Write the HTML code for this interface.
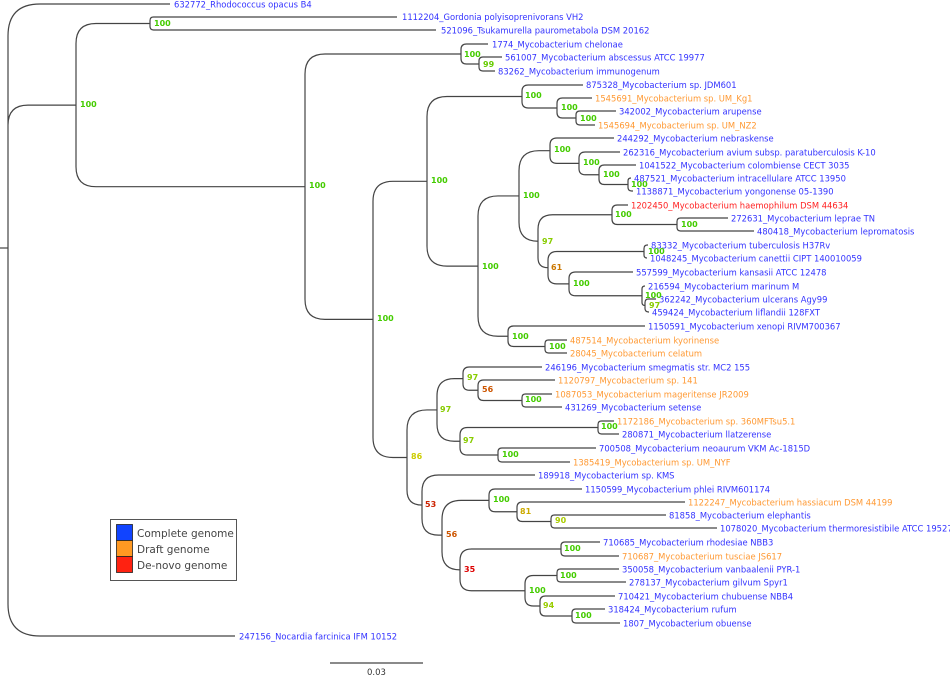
<!DOCTYPE html>
<html><head><meta charset="utf-8"><style>
html,body{margin:0;padding:0;background:#fff;}
svg{display:block;font-family:"DejaVu Sans","Liberation Sans",sans-serif;}
.b{fill:#3333ff;font-size:8.4px}
.o{fill:#ff9933;font-size:8.4px}
.r{fill:#ff2222;font-size:8.4px}
.s{font-size:8px;font-weight:bold}
</style></head><body>
<svg id="t" width="950" height="675" viewBox="0 0 950 675" xmlns="http://www.w3.org/2000/svg">
<g id="lines" fill="none" stroke="#444" stroke-width="1.2"></g>
<line x1="0" y1="248" x2="8" y2="248" stroke="#444" stroke-width="1.2"/>
<g>
<text class="b" x="174" y="7.5">632772_Rhodococcus opacus B4</text>
<text class="b" x="402" y="20">1112204_Gordonia polyisoprenivorans VH2</text>
<text class="b" x="441" y="33.5">521096_Tsukamurella paurometabola DSM 20162</text>
<text class="b" x="492" y="47.5">1774_Mycobacterium chelonae</text>
<text class="b" x="505" y="60.5">561007_Mycobacterium abscessus ATCC 19977</text>
<text class="b" x="498" y="74.5">83262_Mycobacterium immunogenum</text>
<text class="b" x="586" y="88">875328_Mycobacterium sp. JDM601</text>
<text class="o" x="595" y="101.5">1545691_Mycobacterium sp. UM_Kg1</text>
<text class="b" x="619" y="114.5">342002_Mycobacterium arupense</text>
<text class="o" x="598" y="128.5">1545694_Mycobacterium sp. UM_NZ2</text>
<text class="b" x="617" y="141.5">244292_Mycobacterium nebraskense</text>
<text class="b" x="623" y="155.5">262316_Mycobacterium avium subsp. paratuberculosis K-10</text>
<text class="b" x="639" y="168.5">1041522_Mycobacterium colombiense CECT 3035</text>
<text class="b" x="634" y="181.5">487521_Mycobacterium intracellulare ATCC 13950</text>
<text class="b" x="636" y="194.5">1138871_Mycobacterium yongonense 05-1390</text>
<text class="r" x="631" y="208.5">1202450_Mycobacterium haemophilum DSM 44634</text>
<text class="b" x="731" y="221.5">272631_Mycobacterium leprae TN</text>
<text class="b" x="757" y="234.5">480418_Mycobacterium lepromatosis</text>
<text class="b" x="651" y="248.5">83332_Mycobacterium tuberculosis H37Rv</text>
<text class="b" x="650" y="261.5">1048245_Mycobacterium canettii CIPT 140010059</text>
<text class="b" x="636" y="275.5">557599_Mycobacterium kansasii ATCC 12478</text>
<text class="b" x="648" y="289.5">216594_Mycobacterium marinum M</text>
<text class="b" x="659" y="302.5">362242_Mycobacterium ulcerans Agy99</text>
<text class="b" x="652" y="315.5">459424_Mycobacterium liflandii 128FXT</text>
<text class="b" x="648" y="329.5">1150591_Mycobacterium xenopi RIVM700367</text>
<text class="o" x="570" y="343.5">487514_Mycobacterium kyorinense</text>
<text class="o" x="570" y="356.5">28045_Mycobacterium celatum</text>
<text class="b" x="545" y="370.5">246196_Mycobacterium smegmatis str. MC2 155</text>
<text class="o" x="558" y="383.5">1120797_Mycobacterium sp. 141</text>
<text class="o" x="555" y="397.5">1087053_Mycobacterium mageritense JR2009</text>
<text class="b" x="565" y="410.5">431269_Mycobacterium setense</text>
<text class="o" x="617" y="424.5">1172186_Mycobacterium sp. 360MFTsu5.1</text>
<text class="b" x="622" y="437.5">280871_Mycobacterium llatzerense</text>
<text class="b" x="599" y="451.5">700508_Mycobacterium neoaurum VKM Ac-1815D</text>
<text class="o" x="573" y="465.5">1385419_Mycobacterium sp. UM_NYF</text>
<text class="b" x="538" y="478.5">189918_Mycobacterium sp. KMS</text>
<text class="b" x="585" y="492.5">1150599_Mycobacterium phlei RIVM601174</text>
<text class="o" x="688" y="505.5">1122247_Mycobacterium hassiacum DSM 44199</text>
<text class="b" x="669" y="518.5">81858_Mycobacterium elephantis</text>
<text class="b" x="720" y="531.5">1078020_Mycobacterium thermoresistibile ATCC 19527</text>
<text class="b" x="603" y="545.5">710685_Mycobacterium rhodesiae NBB3</text>
<text class="o" x="622" y="559.5">710687_Mycobacterium tusciae JS617</text>
<text class="b" x="622" y="572.5">350058_Mycobacterium vanbaalenii PYR-1</text>
<text class="b" x="629" y="585.5">278137_Mycobacterium gilvum Spyr1</text>
<text class="b" x="618" y="599.5">710421_Mycobacterium chubuense NBB4</text>
<text class="b" x="608" y="612.5">318424_Mycobacterium rufum</text>
<text class="b" x="623" y="626.5">1807_Mycobacterium obuense</text>
<text class="b" x="239" y="639.5">247156_Nocardia farcinica IFM 10152</text>
</g>
<g class="s">
<text x="80" y="107" fill="#44cc00">100</text>
<text x="154" y="26" fill="#44cc00">100</text>
<text x="309" y="188" fill="#44cc00">100</text>
<text x="464" y="57" fill="#44cc00">100</text>
<text x="483" y="67" fill="#66cc00">99</text>
<text x="377" y="321" fill="#44cc00">100</text>
<text x="431" y="183" fill="#44cc00">100</text>
<text x="525" y="98" fill="#44cc00">100</text>
<text x="561" y="110" fill="#44cc00">100</text>
<text x="580" y="121" fill="#44cc00">100</text>
<text x="482" y="269" fill="#44cc00">100</text>
<text x="523" y="198" fill="#44cc00">100</text>
<text x="554" y="152" fill="#44cc00">100</text>
<text x="583" y="165" fill="#44cc00">100</text>
<text x="603" y="177" fill="#44cc00">100</text>
<text x="631" y="187" fill="#44cc00">100</text>
<text x="542" y="244" fill="#88cc00">97</text>
<text x="615" y="217" fill="#44cc00">100</text>
<text x="681" y="227" fill="#44cc00">100</text>
<text x="551" y="270" fill="#cc7700">61</text>
<text x="648" y="254" fill="#44cc00">100</text>
<text x="573" y="286" fill="#44cc00">100</text>
<text x="645" y="298" fill="#44cc00">100</text>
<text x="649" y="308" fill="#88cc00">97</text>
<text x="512" y="339" fill="#44cc00">100</text>
<text x="549" y="349" fill="#44cc00">100</text>
<text x="411" y="459" fill="#cccc00">86</text>
<text x="440" y="412" fill="#88cc00">97</text>
<text x="467" y="380" fill="#88cc00">97</text>
<text x="482" y="392" fill="#cc5500">56</text>
<text x="525" y="402" fill="#44cc00">100</text>
<text x="463" y="443" fill="#88cc00">97</text>
<text x="601" y="429" fill="#44cc00">100</text>
<text x="502" y="457" fill="#44cc00">100</text>
<text x="425" y="507" fill="#cc2200">53</text>
<text x="446" y="537" fill="#cc5500">56</text>
<text x="493" y="502" fill="#44cc00">100</text>
<text x="520" y="514" fill="#ccaa00">81</text>
<text x="555" y="523" fill="#aacc00">90</text>
<text x="464" y="572" fill="#dd0000">35</text>
<text x="564" y="551" fill="#44cc00">100</text>
<text x="529" y="593" fill="#44cc00">100</text>
<text x="560" y="578" fill="#44cc00">100</text>
<text x="543" y="608" fill="#99cc00">94</text>
<text x="575" y="618" fill="#44cc00">100</text>
</g>
<rect x="110.5" y="519.5" width="126" height="61" fill="#fff" stroke="#555" stroke-width="1"/>
<rect x="116.5" y="524.5" width="16" height="16" fill="#1144ff" stroke="#222" stroke-width="0.8"/>
<rect x="116.5" y="540.5" width="16" height="16" fill="#ff9922" stroke="#222" stroke-width="0.8"/>
<rect x="116.5" y="556.5" width="16" height="16" fill="#ff2211" stroke="#222" stroke-width="0.8"/>
<text x="137" y="537" font-size="10.5" fill="#444">Complete genome</text>
<text x="137" y="553" font-size="10.5" fill="#444">Draft genome</text>
<text x="137" y="569" font-size="10.5" fill="#444">De-novo genome</text>
<line x1="330" y1="663" x2="423" y2="663" stroke="#444" stroke-width="1.2"/>
<text x="367" y="675" font-size="8.5" fill="#333">0.03</text>
</svg>
<script>
function L(x,y){return {x:x,y:y,leaf:1};}
function N(x,c){return {x:x,c:c};}
var Nabs=N(461,[L(488,44),N(479,[L(502,57),L(495,71)])]);
var Njdm=N(522,[L(583,85),N(557,[L(592,98),N(576,[L(616,111),L(595,125)])])]);
var Nneb=N(550,[L(614,138),N(579,[L(620,152),N(599,[L(636,165),N(628,[L(631,178),L(633,191)])])])]);
var Nhae=N(612,[L(628,205),N(677,[L(728,218),L(754,231)])]);
var N61=N(548,[N(644,[L(648,245),L(647,258)]),N(569,[L(633,272),N(642,[L(645,286),N(645,[L(656,299),L(649,312)])])])]);
var Na=N(519,[Nneb,N(538,[Nhae,N61])]);
var Nxen=N(508,[L(645,326),N(545,[L(567,340),L(567,353)])]);
var N4=N(427,[Njdm,N(478,[Na,Nxen])]);
var N97b=N(437,[N(463,[L(542,367),N(478,[L(555,380),N(522,[L(552,394),L(562,407)])])]),N(460,[N(598,[L(614,421),L(619,434)]),N(498,[L(596,448),L(570,462)])])]);
var N53=N(422,[L(535,475),N(442,[N(489,[L(582,489),N(517,[L(685,502),N(551,[L(666,515),L(717,528)])])]),N(460,[N(561,[L(600,542),L(619,556)]),N(525,[N(557,[L(619,569),L(626,582)]),N(540,[L(615,596),N(572,[L(605,609),L(620,623)])])])])])]);
var N3=N(373,[N4,N(407,[N97b,N53])]);
var N2=N(305,[Nabs,N3]);
var root=N(8,[L(170,4),N(76,[N(150,[L(397,17),L(436,30)]),N2]),L(235,636)]);
function cy(n){if(n.leaf)return n.y;var ys=n.c.map(cy);n.y=(ys[0]+ys[ys.length-1])/2;return n.y;}
cy(root);root.y=248;
var d="";
function draw(n){if(n.leaf)return;n.c.forEach(function(ch){
var py=n.y,y=ch.y,px=n.x,x=ch.x,dy=y-py,ady=Math.abs(dy);
var r=Math.min(ady,x-px,ady>150?32:Math.max(3,Math.min(20,ady*0.55)));
var s=dy<0?-1:1;
if(ady<0.5){d+="M"+px+" "+y+"L"+x+" "+y;}
else d+="M"+px+" "+py+"L"+px+" "+(y-s*r)+"Q"+px+" "+y+" "+(px+r)+" "+y+"L"+x+" "+y;
draw(ch);});}
draw(root);
var p=document.createElementNS("http://www.w3.org/2000/svg","path");
p.setAttribute("d",d);document.getElementById("lines").appendChild(p);
</script>
</body></html>
